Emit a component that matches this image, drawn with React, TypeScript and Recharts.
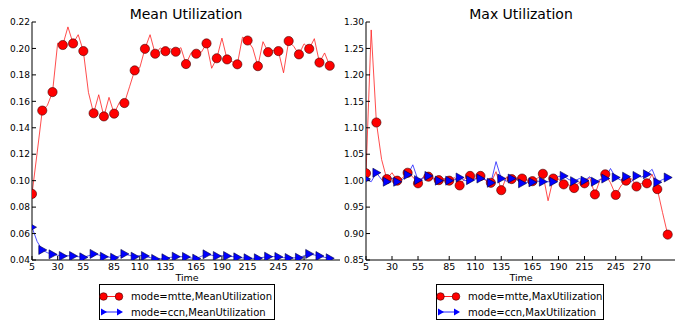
import React from "react";
import { LineChart, Line, XAxis, YAxis } from "recharts";

// time stamps (x) shared by every series
const times = [
  5, 10, 15, 20, 25, 30, 35, 40, 45, 50, 55, 60, 65, 70, 75, 80, 85, 90, 95, 100,
  105, 110, 115, 120, 125, 130, 135, 140, 145, 150, 155, 160, 165, 170, 175, 180, 185, 190, 195, 200,
  205, 210, 215, 220, 225, 230, 235, 240, 245, 250, 255, 260, 265, 270, 275, 280, 285, 290, 295,
];

const meanMtte = [
  0.09, 0.121, 0.153, 0.157, 0.167, 0.204, 0.2026, 0.2163, 0.2038, 0.2104,
  0.198, 0.1667, 0.151, 0.165, 0.1486, 0.163, 0.1507, 0.159, 0.1587, 0.171,
  0.1834, 0.1855, 0.1997, 0.2104, 0.196, 0.2004, 0.1979, 0.1998, 0.1975, 0.2006,
  0.1882, 0.1967, 0.196, 0.1972, 0.2038, 0.185, 0.1926, 0.2078, 0.1917, 0.19,
  0.188, 0.2085, 0.206, 0.2003, 0.1866, 0.2051, 0.1972, 0.1985, 0.198, 0.1816,
  0.2056, 0.2015, 0.1955, 0.2035, 0.1997, 0.2074, 0.1893, 0.1966, 0.1869,
];

const meanCcn = [
  0.0648, 0.054, 0.0476, 0.0455, 0.0443, 0.0436, 0.043, 0.0432, 0.043, 0.0425,
  0.042, 0.0432, 0.0446, 0.0438, 0.0425, 0.0422, 0.0417, 0.043, 0.0446, 0.0435,
  0.0425, 0.0434, 0.043, 0.0418, 0.0408, 0.041, 0.0413, 0.042, 0.0425, 0.0425,
  0.0423, 0.0415, 0.041, 0.0428, 0.0443, 0.0436, 0.043, 0.0432, 0.043, 0.0426,
  0.042, 0.0416, 0.0413, 0.0412, 0.0413, 0.042, 0.0425, 0.0426, 0.0423, 0.0418,
  0.0415, 0.0416, 0.0417, 0.0432, 0.0446, 0.0438, 0.043, 0.042, 0.0413,
];

const maxMtte = [
  1.014, 1.285, 1.11, 1.04, 1.003, 1.015, 1.0, 1.005, 1.015, 1.007,
  0.995, 1.007, 1.0075, 1.005, 1.001, 1.004, 1.0, 1.006, 0.991, 1.004,
  1.009, 1.004, 1.009, 1.0, 0.996, 1.017, 0.982, 1.007, 1.003, 1.005,
  1.004, 1.001, 0.999, 1.005, 1.013, 0.962, 1.004, 1.003, 0.993, 0.992,
  0.986, 0.997, 0.995, 1.006, 0.974, 1.002, 1.012, 0.996, 0.973, 0.99,
  1.0, 1.004, 0.989, 0.995, 0.995, 1.012, 0.984, 0.94, 0.898,
];

const maxCcn = [
  1.003, 0.998, 1.015, 1.002, 0.998, 1.005, 0.998, 1.002, 1.011, 1.03,
  1.001, 1.005, 1.009, 1.003, 1.0, 1.001, 1.0, 1.002, 1.006, 1.0,
  1.001, 1.003, 1.004, 1.002, 0.996, 1.036, 1.004, 0.999, 1.004, 1.002,
  0.995, 0.997, 0.997, 0.999, 0.998, 0.998, 0.998, 1.008, 1.009, 1.002,
  0.999, 1.004, 1.0, 1.0075, 0.998, 1.002, 1.004, 1.023, 1.006, 1.001,
  1.0075, 0.998, 1.009, 1.007, 1.012, 1.0215, 0.997, 1.002, 1.006,
];

const timeTicks = [5, 30, 55, 85, 110, 135, 165, 190, 215, 245, 270];
const meanTicks = [0.04, 0.06, 0.08, 0.1, 0.12, 0.14, 0.16, 0.18, 0.2, 0.22];
const maxTicks = [0.85, 0.9, 0.95, 1.0, 1.05, 1.1, 1.15, 1.2, 1.25, 1.3];

const FONT = "DejaVu Sans";

const meanData = times.map((t, i) => ({ t, mtte: meanMtte[i], ccn: meanCcn[i] }));
const maxData = times.map((t, i) => ({ t, mtte: maxMtte[i], ccn: maxCcn[i] }));

// markers on every other sample, first one clipped at the left axis
const makeDot = (kind: "circle" | "tri", id: string) => (props: any) => {
  const { cx, cy, index } = props;
  const key = `${id}-${index}`;
  if (index % 2 !== 0 || cx == null || cy == null) return <g key={key} />;
  const shape =
    kind === "circle" ? (
      <circle cx={cx} cy={cy} r={4.6} fill="#ff0000" stroke="#400000" strokeWidth={0.6} />
    ) : (
      <polygon
        points={`${cx + 4.5},${cy} ${cx - 3.5},${cy - 4.5} ${cx - 3.5},${cy + 4.5}`}
        fill="#0000ff"
        stroke="#000040"
        strokeWidth={0.6}
      />
    );
  if (index === 0) {
    const cid = `clip-${key}`;
    return (
      <g key={key}>
        <defs>
          <clipPath id={cid}>
            <rect x={cx} y={cy - 10} width={12} height={20} />
          </clipPath>
        </defs>
        <g clipPath={`url(#${cid})`}>{shape}</g>
      </g>
    );
  }
  return <g key={key}>{shape}</g>;
};

const fmt2 = (v: number) => v.toFixed(2);

const Panel = ({ data, domainX, domainY, yTicks, yWidth, right, id }: any) => (
  <LineChart
    width={345}
    height={290}
    data={data}
    margin={{ top: 22, right, left: 0, bottom: 0 }}
  >
    <XAxis
      dataKey="t"
      type="number"
      domain={domainX}
      allowDataOverflow
      ticks={timeTicks}
      interval={0}
      tickSize={-4}
      tickMargin={7}
      height={30}
      axisLine={{ stroke: "#000" }}
      tickLine={{ stroke: "#000" }}
      tick={{ fontSize: 9.5, fill: "#000", fontFamily: FONT }}
    />
    <XAxis
      xAxisId="top"
      orientation="top"
      dataKey="t"
      type="number"
      domain={domainX}
      allowDataOverflow
      ticks={timeTicks}
      tickSize={-4}
      height={0}
      tick={false}
      axisLine={{ stroke: "#000" }}
      tickLine={{ stroke: "#000" }}
    />
    <YAxis
      type="number"
      domain={domainY}
      allowDataOverflow
      ticks={yTicks}
      interval={0}
      width={yWidth}
      tickSize={-4}
      tickMargin={6}
      tickFormatter={fmt2}
      axisLine={{ stroke: "#000" }}
      tickLine={{ stroke: "#000" }}
      tick={{ fontSize: 9, fill: "#000", fontFamily: FONT }}
    />
    <YAxis
      yAxisId="right"
      orientation="right"
      type="number"
      domain={domainY}
      allowDataOverflow
      ticks={yTicks}
      width={0}
      tickSize={-4}
      tick={false}
      axisLine={{ stroke: "#000" }}
      tickLine={{ stroke: "#000" }}
    />
    <Line
      dataKey="mtte"
      stroke="#ff2020"
      strokeWidth={0.8}
      dot={makeDot("circle", id + "r")}
      activeDot={false}
      isAnimationActive={false}
    />
    <Line
      dataKey="ccn"
      stroke="#2020ff"
      strokeWidth={0.8}
      dot={makeDot("tri", id + "b")}
      activeDot={false}
      isAnimationActive={false}
    />
  </LineChart>
);

const LegendBox = ({ x, width, labels }: { x: number; width: number; labels: string[] }) => (
  <g>
    <rect x={x + 0.5} y={284.5} width={width} height={35} fill="#fff" stroke="#000" strokeWidth={1} />
    <line x1={x + 4} y1={296.5} x2={x + 20} y2={296.5} stroke="#ff2020" strokeWidth={1} />
    <circle cx={x + 4.5} cy={296.5} r={3.8} fill="#ff0000" stroke="#400000" strokeWidth={0.6} />
    <circle cx={x + 20} cy={296.5} r={3.8} fill="#ff0000" stroke="#400000" strokeWidth={0.6} />
    <line x1={x + 4} y1={312} x2={x + 20} y2={312} stroke="#2020ff" strokeWidth={1} />
    <polygon points={`${x + 8},312 ${x + 2},308.5 ${x + 2},315.5`} fill="#0000ff" />
    <polygon points={`${x + 24},312 ${x + 18},308.5 ${x + 18},315.5`} fill="#0000ff" />
    <text x={x + 32} y={300} fontSize={10} fontFamily={FONT} fill="#000">
      {labels[0]}
    </text>
    <text x={x + 32} y={315.5} fontSize={10} fontFamily={FONT} fill="#000">
      {labels[1]}
    </text>
  </g>
);

export default function App() {
  return (
    <div style={{ position: "absolute", left: 0, top: 0, width: 686, height: 325, background: "#fff" }}>
      <div style={{ position: "absolute", left: 0, top: 0 }}>
        <Panel data={meanData} domainX={[5, 305]} domainY={[0.04, 0.22]} yTicks={meanTicks} yWidth={32} right={5} id="mean" />
      </div>
      <div style={{ position: "absolute", left: 340, top: 0 }}>
        <Panel data={maxData} domainX={[5, 302]} domainY={[0.85, 1.3]} yTicks={maxTicks} yWidth={26} right={10} id="max" />
      </div>
      <svg width={686} height={325} style={{ position: "absolute", left: 0, top: 0, pointerEvents: "none" }}>
        <text x={186} y={19} textAnchor="middle" fontSize={14} fontFamily={FONT} fill="#000">
          Mean Utilization
        </text>
        <text x={521} y={19} textAnchor="middle" fontSize={14} fontFamily={FONT} fill="#000">
          Max Utilization
        </text>
        <text x={187} y={281} textAnchor="middle" fontSize={9.5} fontFamily={FONT} fill="#000">
          Time
        </text>
        <text x={521} y={281} textAnchor="middle" fontSize={9.5} fontFamily={FONT} fill="#000">
          Time
        </text>
        <LegendBox x={99} width={175} labels={["mode=mtte,MeanUtilization", "mode=ccn,MeanUtilization"]} />
        <LegendBox x={436} width={167} labels={["mode=mtte,MaxUtilization", "mode=ccn,MaxUtilization"]} />
      </svg>
    </div>
  );
}
